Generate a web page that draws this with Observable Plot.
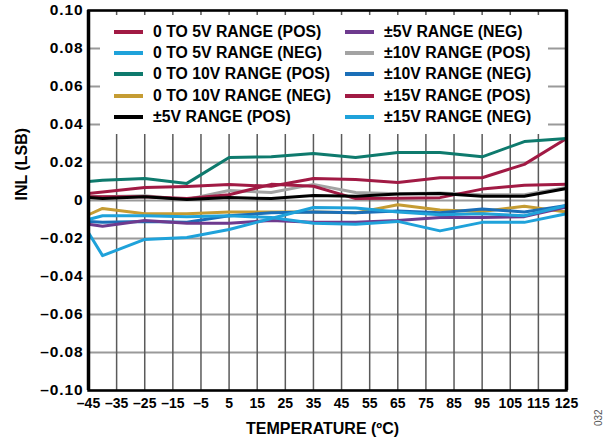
<!DOCTYPE html>
<html><head><meta charset="utf-8">
<script src="https://cdn.jsdelivr.net/npm/d3@7"></script>
<script src="https://cdn.jsdelivr.net/npm/@observablehq/plot@0.6"></script>
<style>
body{margin:0;background:#fff;}
#wrap{position:relative;width:608px;height:446px;font-family:"Liberation Sans",Arial,Helvetica,sans-serif;font-weight:bold;}
#legend{position:absolute;left:100px;top:15px;width:448px;height:119px;background:#fff;}
.lab{position:absolute;font-size:15.8px;line-height:16px;white-space:nowrap;color:#000;}
.sw{position:absolute;height:4px;width:29px;}
#code{position:absolute;left:593px;top:426px;font-size:10px;font-weight:normal;color:#555;transform:rotate(-90deg);transform-origin:left top;font-family:"Liberation Sans",Arial,sans-serif;}
g[aria-label="y-axis tick label"] text{letter-spacing:0.9px;}
</style></head>
<body><div id="wrap"><div id="legend"></div><div id="code">032</div></div>
<script>
const temps = [-45, -40, -25, -10, 5, 20, 35, 50, 65, 80, 95, 110, 125];
const xTicks = [-45, -35, -25, -15, -5, 5, 15, 25, 35, 45, 55, 65, 75, 85, 95, 105, 115, 125];
const yTicks = [-0.10, -0.08, -0.06, -0.04, -0.02, 0, 0.02, 0.04, 0.06, 0.08, 0.10];

const seriesNames = [
  "0 TO 5V RANGE (POS)", "0 TO 5V RANGE (NEG)", "0 TO 10V RANGE (POS)", "0 TO 10V RANGE (NEG)", "±5V RANGE (POS)",
  "±5V RANGE (NEG)", "±10V RANGE (POS)", "±10V RANGE (NEG)", "±15V RANGE (POS)", "±15V RANGE (NEG)"
];
const seriesColors = ["#a11a44", "#1fa2da", "#0e7a6d", "#c59c33", "#000000", "#6e3a8e", "#a3a3a3", "#1b6fb8", "#a11a44", "#1fa2da"];

const uni5Pos  = [0.0037, 0.0045, 0.0068, 0.0074, 0.0084, 0.0075, 0.0116, 0.011, 0.0095, 0.012, 0.012, 0.019, 0.0326];
const uni5Neg  = [-0.017, -0.029, -0.0205, -0.0195, -0.0153, -0.0095, -0.0037, -0.004, -0.006, -0.0075, -0.007, -0.008, -0.0026];
const uni10Pos = [0.010, 0.0107, 0.0116, 0.009, 0.0226, 0.023, 0.0247, 0.0226, 0.0253, 0.0253, 0.023, 0.031, 0.0326];
const uni10Neg = [-0.0075, -0.0042, -0.007, -0.007, -0.006, -0.006, -0.006, -0.0065, -0.0022, -0.005, -0.0058, -0.003, -0.006];
const bip5Pos  = [0.0016, 0.001, 0.002, 0.0005, 0.0016, 0.001, 0.0026, 0.0023, 0.0034, 0.0037, 0.0022, 0.0022, 0.0063];
const bip5Neg  = [-0.0125, -0.0135, -0.0105, -0.012, -0.012, -0.0105, -0.0115, -0.0115, -0.0105, -0.009, -0.009, -0.0085, -0.0035];
const bip10Pos = [0.002, 0.002, 0.0025, 0.0005, 0.0053, 0.0042, 0.0085, 0.0042, 0.0035, 0.004, 0.003, 0.003, 0.0068];
const bip10Neg = [-0.011, -0.0115, -0.011, -0.0115, -0.008, -0.0065, -0.006, -0.0065, -0.0055, -0.0065, -0.0045, -0.006, -0.0026];
const bip15Pos = [0.002, 0.002, 0.002, 0.001, 0.003, 0.0085, 0.0075, 0.001, 0.0012, 0.0015, 0.006, 0.008, 0.0085];
const bip15Neg = [-0.010, -0.008, -0.008, -0.0085, -0.008, -0.009, -0.012, -0.0125, -0.011, -0.016, -0.0115, -0.0115, -0.007];

const seriesValues = [uni5Pos, uni5Neg, uni10Pos, uni10Neg, bip5Pos, bip5Neg, bip10Pos, bip10Neg, bip15Pos, bip15Neg];
// draw order (back to front)
const drawOrder = [6, 8, 0, 2, 4, 3, 7, 5, 9, 1];

const data = [];
drawOrder.forEach(i => seriesValues[i].forEach((v, j) => data.push({t: temps[j], v, s: seriesNames[i]})));

const fmtX = d => d < 0 ? "\u2013" + Math.abs(d) : String(d);
const fmtY = d => d === 0 ? "0" : (d < 0 ? "\u2013" : "") + Math.abs(d).toFixed(2);

const chart = Plot.plot({
  width: 608, height: 446,
  marginLeft: 88, marginRight: 42, marginTop: 10, marginBottom: 56,
  style: {fontFamily: '"Liberation Sans", Arial, sans-serif', fontSize: "14px", fontWeight: "bold", color: "#000", background: "transparent"},
  x: {domain: [-45, 125]},
  y: {domain: [-0.1, 0.1]},
  color: {domain: seriesNames, range: seriesColors},
  marks: [
    Plot.gridY(yTicks, {stroke: "#9a9a9a", strokeOpacity: 1, strokeWidth: 2}),
    Plot.gridX(xTicks, {stroke: "#5a5a5a", strokeOpacity: 1, strokeWidth: 1.5}),
    Plot.axisX(xTicks, {tickSize: 0, tickPadding: 8, tickFormat: fmtX, label: null, fontSize: 14}),
    Plot.axisY(yTicks, {tickSize: 0, tickPadding: 5, tickFormat: fmtY, label: null, fontSize: 15.5}),
    Plot.lineY(data, {x: "t", y: "v", z: "s", stroke: "s", strokeWidth: 3}),
    Plot.frame({stroke: "#000", strokeWidth: 2.5}),
    Plot.ruleX([-45, 125], {stroke: "#000", strokeWidth: 3.5}),
    Plot.text(["TEMPERATURE (ºC)"], {frameAnchor: "bottom", dy: 43, dx: -5, fontSize: 16, fontWeight: "bold"}),
    Plot.text(["INL (LSB)"], {frameAnchor: "left", dx: -67, rotate: -90, fontSize: 16, fontWeight: "bold"})
  ]
});
document.getElementById("wrap").prepend(chart);

const legend = document.getElementById("legend");
seriesNames.forEach((name, i) => {
  const col = Math.floor(i / 5), row = i % 5;
  const cy = 17 + row * 21.2;
  const swx = col === 0 ? 14 : 245;
  const sw = document.createElement("div");
  sw.className = "sw";
  sw.style.left = swx + "px";
  sw.style.top = (cy - 2) + "px";
  sw.style.background = seriesColors[i];
  legend.appendChild(sw);
  const lab = document.createElement("div");
  lab.className = "lab";
  lab.style.left = (swx + 39) + "px";
  lab.style.top = (cy - 8) + "px";
  lab.textContent = name;
  legend.appendChild(lab);
});
</script>
</body></html>
